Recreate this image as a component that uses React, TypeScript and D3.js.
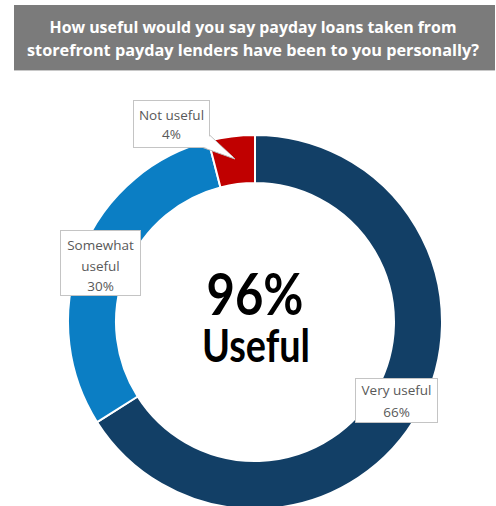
import React from "react";
import * as d3 from "d3";

const categories = ["Very useful", "Somewhat useful", "Not useful"];
const values = [66, 30, 4];
const labelLines = [
  ["Very useful", "66%"],
  ["Somewhat", "useful", "30%"],
  ["Not useful", "4%"],
];
const titleLines = [
  "How useful would you say payday loans taken from",
  "storefront payday lenders have been to you personally?",
];
const centerLines = ["96%", "Useful"];

const COLORS = ["#123f66", "#0b7ec4", "#c00000"];

export default function App() {
  const W = 496;
  const H = 506;
  const cx = 255;
  const cy = 322;
  const rOuter = 187;
  const rInner = 139;

  const pie = d3.pie<number>().sort(null).value((d) => d);
  const arcs = pie(values);
  const arc = d3.arc<d3.PieArcDatum<number>>().innerRadius(rInner).outerRadius(rOuter);

  const boxes = [
    { x: 355, y: 378, w: 82, h: 44, baselines: [395, 417] },
    { x: 60, y: 230, w: 80, h: 65, baselines: [250, 271, 291] },
    { x: 133, y: 100, w: 76, h: 47, baselines: [120, 139] },
  ];

  const labelFont = "'Open Sans', 'Noto Sans', sans-serif";

  return (
    <svg
      width={W}
      height={H}
      viewBox={`0 0 ${W} ${H}`}
      style={{ position: "absolute", left: 0, top: 0, background: "#fff" }}
    >
      <rect x={0} y={0} width={W} height={H} fill="#fff" />
      <rect x={14} y={5} width={481} height={65} fill="#7b7b7b" />
      <line x1={14} x2={495} y1={70.5} y2={70.5} stroke="#c8c8c8" strokeWidth={1} />
      {titleLines.map((t, i) => (
        <text
          key={i}
          x={253}
          y={33 + i * 23}
          textAnchor="middle"
          fill="#ffffff"
          fontFamily={labelFont}
          fontWeight="bold"
          fontSize={16}
          textLength={i === 0 ? 407 : 452}
          lengthAdjust="spacingAndGlyphs"
        >
          {t}
        </text>
      ))}

      <g transform={`translate(${cx},${cy})`}>
        {arcs.map((a, i) => (
          <path key={categories[i]} d={arc(a) || ""} fill={COLORS[i]} stroke="#fff" strokeWidth={2} />
        ))}
      </g>

      <text
        x={255}
        y={315}
        textAnchor="middle"
        fontFamily="Lato, 'Open Sans', sans-serif"
        fontWeight="bold"
        fontSize={58}
        fill="#000"
        textLength={97}
        lengthAdjust="spacingAndGlyphs"
      >
        {centerLines[0]}
      </text>
      <text
        x={256}
        y={362}
        textAnchor="middle"
        fontFamily="Lato, 'Open Sans', sans-serif"
        fontWeight="bold"
        fontSize={45}
        fill="#000"
        textLength={108}
        lengthAdjust="spacingAndGlyphs"
      >
        {centerLines[1]}
      </text>

      <path
        d={`M 200 146.5 L 235 159 L 208.5 134 Z`}
        fill="#fff"
        stroke="#bdbdbd"
        strokeWidth={1}
      />

      {boxes.map((b, i) => (
        <g key={categories[i]}>
          <rect x={b.x + 0.5} y={b.y + 0.5} width={b.w} height={b.h} fill="#fff" stroke="#c4c4c4" strokeWidth={1} />
          {labelLines[i].map((ln, j) => (
            <text
              key={j}
              x={b.x + b.w / 2 + 0.5}
              y={b.baselines[j]}
              textAnchor="middle"
              fontFamily={labelFont}
              fontSize={13.5}
              fill="#595959"
            >
              {ln}
            </text>
          ))}
        </g>
      ))}
      <path d={`M 201 146 L 233.5 157.5 L 208 135 Z`} fill="#fff" stroke="none" />
    </svg>
  );
}
